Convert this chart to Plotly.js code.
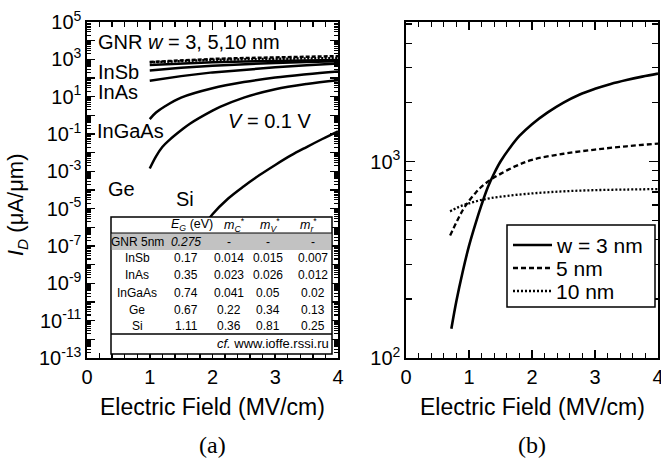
<!DOCTYPE html>
<html>
<head>
<meta charset="utf-8">
<script src="https://cdn.plot.ly/plotly-3.0.1.min.js"></script>
<style>html,body{margin:0;padding:0;background:#fff;}#chart{width:661px;height:462px;}</style>
</head>
<body>
<div id="chart"></div>
<script>
// ---------- Panel (a) data : I_D (uA/um) vs Electric Field (MV/cm), V = 0.1 V ----------
const aX = [1, 1.5, 2, 2.5, 3, 3.5, 4];
const aGnr3 = [501, 617, 708, 776, 832, 871, 912];
const aGnr5 = [724, 891, 1047, 1175, 1288, 1380, 1479];
const aGnr10 = [692, 832, 933, 1000, 1072, 1122, 1175];
const aInSb = [251, 355, 457, 550, 646, 724, 794];
const aInAs = [70.8, 126, 200, 282, 372, 479, 603];
const aInGaAsX = [1, 1.1, 1.25, 1.5, 2, 2.5, 3, 3.5, 4];
const aInGaAs = [0.631, 1.41, 3.16, 8.91, 28.2, 60.3, 105, 158, 224];
const aGeX = [1, 1.1, 1.2, 1.32, 1.5, 1.64, 2, 2.12, 2.5, 3, 3.5, 4];
const aGe = [1.41e-3, 6.31e-3, 0.02, 0.0501, 0.158, 0.355, 1.78, 2.82, 8.91, 25.1, 47.9, 75.9];
const aSiX = [1, 1.25, 1.5, 1.75, 2, 2.25, 2.5, 2.75, 3, 3.25, 3.5, 3.75, 4];
const aSi = [6.3e-12, 5.0e-10, 1.6e-8, 3.5e-7, 5.0e-6, 3.5e-5, 1.6e-4, 6.3e-4, 2.2e-3, 7.1e-3, 0.020, 0.054, 0.14];

// ---------- Panel (b) data : GNR widths ----------
const bX3 = [0.72, 0.8, 0.9, 1.0, 1.1, 1.2, 1.3, 1.4, 1.5, 1.65, 1.8, 2.0, 2.25, 2.5, 2.75, 3.0, 3.25, 3.5, 3.75, 4.0];
const bY3 = [141, 195, 275, 372, 479, 603, 741, 871, 1000, 1175, 1349, 1549, 1778, 1995, 2188, 2344, 2483, 2600, 2704, 2800];
const bX5 = [0.7, 0.8, 0.9, 1.0, 1.1, 1.2, 1.35, 1.5, 1.75, 2.0, 2.5, 3.0, 3.5, 4.0];
const bY5 = [420, 490, 565, 630, 690, 745, 810, 865, 950, 1020, 1095, 1150, 1195, 1234];
const bX10 = [0.7, 0.8, 0.9, 1.0, 1.2, 1.5, 2.0, 2.5, 3.0, 3.5, 4.0];
const bY10 = [557, 580, 598, 612, 638, 662, 688, 705, 715, 720, 724];
const legendNames = ['w = 3 nm', '5 nm', '10 nm'];

// ---------- Table content ----------
const tableHeader = ['<i>E<sub>G</sub></i> (eV)', '<i>m<sub>C</sub></i><sup>*</sup>', '<i>m<sub>V</sub></i><sup>*</sup>', '<i>m<sub>r</sub></i><sup>*</sup>'];
const tableNames = ['GNR 5nm', 'InSb', 'InAs', 'InGaAs', 'Ge', 'Si'];
const tableEG = ['<i>0.275</i>', '0.17', '0.35', '0.74', '0.67', '1.11'];
const tableMC = ['-', '0.014', '0.023', '0.041', '0.22', '0.36'];
const tableMV = ['-', '0.015', '0.026', '0.05', '0.34', '0.81'];
const tableMR = ['-', '0.007', '0.012', '0.02', '0.13', '0.25'];
const tableNote = '<i>cf.</i> www.ioffe.rssi.ru';

// ---------- Tick labels ----------
const aYTickExp = [-13, -11, -9, -7, -5, -3, -1, 1, 3, 5];
const bYTickExp = [2, 3];

// ---------- Layout helpers ----------
const FONT = 'Liberation Sans, Arial, Helvetica, sans-serif';
const ML = 87, MR = 3, MT = 22, MB = 104, W = 661, H = 462;
const PW = W - ML - MR, PH = H - MT - MB;
const px = v => (v - ML) / PW;
const py = v => (H - MB - v) / PH;

const black = '#000';
const styleB = [
  {color: black, width: 2.6, shape: 'spline'},
  {color: black, width: 2.3, dash: '5px,3px', shape: 'spline'},
  {color: black, width: 2.3, dash: '2px,2px', shape: 'spline'}
];
const traces = [
  {x: aX, y: aGnr3, xaxis: 'x', yaxis: 'y', mode: 'lines', name: 'GNR w=3', line: {color: black, width: 2.5}, showlegend: false},
  {x: aX, y: aGnr5, xaxis: 'x', yaxis: 'y', mode: 'lines', name: 'GNR w=5', line: {color: black, width: 2.5, dash: '4px,2px'}, showlegend: false},
  {x: aX, y: aGnr10, xaxis: 'x', yaxis: 'y', mode: 'lines', name: 'GNR w=10', line: {color: black, width: 2.5, dash: '2px,1.5px'}, showlegend: false},
  {x: aX, y: aInSb, xaxis: 'x', yaxis: 'y', mode: 'lines', name: 'InSb', line: {color: black, width: 2.5}, showlegend: false},
  {x: aX, y: aInAs, xaxis: 'x', yaxis: 'y', mode: 'lines', name: 'InAs', line: {color: black, width: 2.5}, showlegend: false},
  {x: aInGaAsX, y: aInGaAs, xaxis: 'x', yaxis: 'y', mode: 'lines', name: 'InGaAs', line: {color: black, width: 2.5, shape: 'spline'}, showlegend: false},
  {x: aGeX, y: aGe, xaxis: 'x', yaxis: 'y', mode: 'lines', name: 'Ge', line: {color: black, width: 2.5, shape: 'spline'}, showlegend: false},
  {x: aSiX, y: aSi, xaxis: 'x', yaxis: 'y', mode: 'lines', name: 'Si', line: {color: black, width: 2.5, shape: 'spline'}, showlegend: false},
  {x: bX3, y: bY3, xaxis: 'x2', yaxis: 'y2', mode: 'lines', name: legendNames[0], line: styleB[0], showlegend: false},
  {x: bX5, y: bY5, xaxis: 'x2', yaxis: 'y2', mode: 'lines', name: legendNames[1], line: styleB[1], showlegend: false},
  {x: bX10, y: bY10, xaxis: 'x2', yaxis: 'y2', mode: 'lines', name: legendNames[2], line: styleB[2], showlegend: false},
  // empty traces so that the mirrored-tick overlay axes (top / right) are drawn
  {x: [], y: [], xaxis: 'x3', yaxis: 'y', mode: 'lines', showlegend: false, hoverinfo: 'skip'},
  {x: [], y: [], xaxis: 'x', yaxis: 'y3', mode: 'lines', showlegend: false, hoverinfo: 'skip'},
  {x: [], y: [], xaxis: 'x4', yaxis: 'y2', mode: 'lines', showlegend: false, hoverinfo: 'skip'},
  {x: [], y: [], xaxis: 'x2', yaxis: 'y4', mode: 'lines', showlegend: false, hoverinfo: 'skip'}
];

function minorLog(lo, hi, maxVal) {
  const out = [];
  for (let e = lo; e <= hi; e++) {
    for (let k = 2; k <= 9; k++) {
      const v = k * Math.pow(10, e);
      if (v <= maxVal) out.push(v);
    }
  }
  return out;
}
const aMajorVals = [], aMajorText = [];
for (let e = -13; e <= 5; e++) {
  aMajorVals.push(Math.pow(10, e));
  aMajorText.push(aYTickExp.includes(e) ? '10<sup>' + e + '</sup>' : '');
}

const axisCommon = {
  showline: true, linecolor: black, linewidth: 1.6, mirror: true,
  ticks: 'inside', tickcolor: black, tickwidth: 1.6, showgrid: false, zeroline: false,
  tickfont: {family: FONT, size: 20, color: black}
};
const xTicks = {
  range: [0, 4], tickmode: 'linear', tick0: 0, dtick: 1, ticklen: 8,
  minor: {dtick: 0.2, tick0: 0, ticks: 'inside', ticklen: 5, tickwidth: 1.4, tickcolor: black, showgrid: false}
};
const aYTicks = {
  type: 'log', range: [-13, 5],
  tickmode: 'array', tickvals: aMajorVals, ticktext: aMajorText, ticklen: 8,
  minor: {tickmode: 'array', tickvals: minorLog(-13, 4, 1e5), ticks: 'inside', ticklen: 4, tickwidth: 1.1, tickcolor: black, showgrid: false}
};
const bYTicks = {
  type: 'log', range: [2, 3.71],
  tickmode: 'array', tickvals: bYTickExp.map(e => Math.pow(10, e)),
  ticktext: bYTickExp.map(e => '10<sup>' + e + '</sup>'), ticklen: 9,
  minor: {tickmode: 'array', tickvals: minorLog(2, 3, 5000), ticks: 'inside', ticklen: 6, tickwidth: 1.4, tickcolor: black, showgrid: false}
};
// overlay axes that only draw mirrored ticks (top / right)
const mirrorAxis = {showline: false, showticklabels: false, ticks: 'inside', tickcolor: black, tickwidth: 1.6, showgrid: false, zeroline: false, fixedrange: true};

const annotations = [];
function ann(text, x, y, opts) {
  annotations.push(Object.assign({
    text: text, xref: 'paper', yref: 'paper', x: px(x), y: py(y),
    showarrow: false, xanchor: 'center', yanchor: 'middle',
    font: {family: FONT, size: 20, color: black}
  }, opts || {}));
}
// Panel labels inside (a)
ann('GNR <i>w</i> = 3, 5,10 nm', 96, 42, {xanchor: 'left'});
ann('InSb', 96, 72, {xanchor: 'left'});
ann('InAs', 96, 92, {xanchor: 'left'});
ann('InGaAs', 95, 131, {xanchor: 'left'});
ann('Ge', 106, 189, {xanchor: 'left'});
ann('Si', 174, 199, {xanchor: 'left'});
ann('<i>V</i> = 0.1 V', 226, 121, {xanchor: 'left'});
// axis titles
ann('Electric Field (MV/cm)', 212.5, 407, {font: {family: FONT, size: 23, color: black}});
ann('Electric Field (MV/cm)', 532, 407, {font: {family: FONT, size: 23, color: black}});
ann('<i>I</i><sub><i>D</i></sub> (μA/μm)', 17, 205, {textangle: -90, font: {family: FONT, size: 22, color: black}});
ann('(a)', 212.5, 445, {font: {family: 'Liberation Serif, Times New Roman, serif', size: 24, color: black}});
ann('(b)', 532, 445, {font: {family: 'Liberation Serif, Times New Roman, serif', size: 24, color: black}});

// Table
const TF = {family: FONT, size: 12, color: black};
const colX = [137, 186, 229, 268, 313];
const headX = [192, 234, 270, 308];
const rowY = [241.5, 258, 275, 293, 310, 326];
tableHeader.forEach((t, i) => ann(t, headX[i], 225, {font: {family: FONT, size: 12.5, color: black}}));
tableNames.forEach((t, i) => {
  ann(t, colX[0], rowY[i], {font: TF});
  ann(tableEG[i], colX[1], rowY[i], {font: TF});
  ann(tableMC[i], colX[2], rowY[i], {font: TF});
  ann(tableMV[i], colX[3], rowY[i], {font: TF});
  ann(tableMR[i], colX[4], rowY[i], {font: TF});
});
ann(tableNote, 331, 343, {xanchor: 'right', font: {family: FONT, size: 13, color: black}});

const shapes = [
  {type: 'rect', xref: 'paper', yref: 'paper', x0: px(111), x1: px(332), y0: py(217), y1: py(354),
   fillcolor: '#fff', line: {color: black, width: 1.5}, layer: 'above'},
  {type: 'rect', xref: 'paper', yref: 'paper', x0: px(111.8), x1: px(331.2), y0: py(233), y1: py(250),
   fillcolor: '#c2c2c2', line: {width: 0}, layer: 'above'},
  {type: 'line', xref: 'paper', yref: 'paper', x0: px(111), x1: px(332), y0: py(233), y1: py(233),
   line: {color: black, width: 1}, layer: 'above'},
  {type: 'line', xref: 'paper', yref: 'paper', x0: px(111), x1: px(332), y0: py(334), y1: py(334),
   line: {color: black, width: 1.5}, layer: 'above'},
  // legend box of panel (b)
  {type: 'rect', xref: 'paper', yref: 'paper', x0: px(507), x1: px(655), y0: py(225), y1: py(307),
   fillcolor: '#fff', line: {color: black, width: 1.5}, layer: 'above'}
];
const legY = [245, 268, 291];
legendNames.forEach((n, i) => {
  shapes.push({type: 'line', xref: 'paper', yref: 'paper', x0: px(513), x1: px(552), y0: py(legY[i]), y1: py(legY[i]),
    line: {color: black, width: styleB[i].width, dash: styleB[i].dash || 'solid'}, layer: 'above'});
  ann(n, 554, legY[i], {xanchor: 'left', font: {family: FONT, size: 21, color: black}});
});

const layout = {
  width: W, height: H,
  margin: {l: ML, r: MR, t: MT, b: MB, pad: 0},
  paper_bgcolor: '#fff', plot_bgcolor: '#fff',
  font: {family: FONT, color: black},
  showlegend: false,
  xaxis: Object.assign({}, axisCommon, xTicks, {domain: [0, px(338)], anchor: 'y'}),
  xaxis2: Object.assign({}, axisCommon, xTicks, {domain: [px(406), 1], anchor: 'y2', ticklabeloverflow: 'allow'}),
  yaxis: Object.assign({}, axisCommon, aYTicks, {domain: [0, 1], anchor: 'x'}),
  yaxis2: Object.assign({}, axisCommon, bYTicks, {domain: [0, 1], anchor: 'x2'}),
  xaxis3: Object.assign({}, mirrorAxis, xTicks, {overlaying: 'x', side: 'top', anchor: 'y'}),
  xaxis4: Object.assign({}, mirrorAxis, xTicks, {overlaying: 'x2', side: 'top', anchor: 'y2'}),
  yaxis3: Object.assign({}, mirrorAxis, aYTicks, {overlaying: 'y', side: 'right', anchor: 'x'}),
  yaxis4: Object.assign({}, mirrorAxis, bYTicks, {overlaying: 'y2', side: 'right', anchor: 'x2'}),
  annotations: annotations,
  shapes: shapes
};

Plotly.newPlot('chart', traces, layout, {displayModeBar: false, staticPlot: true});
</script>
</body>
</html>
